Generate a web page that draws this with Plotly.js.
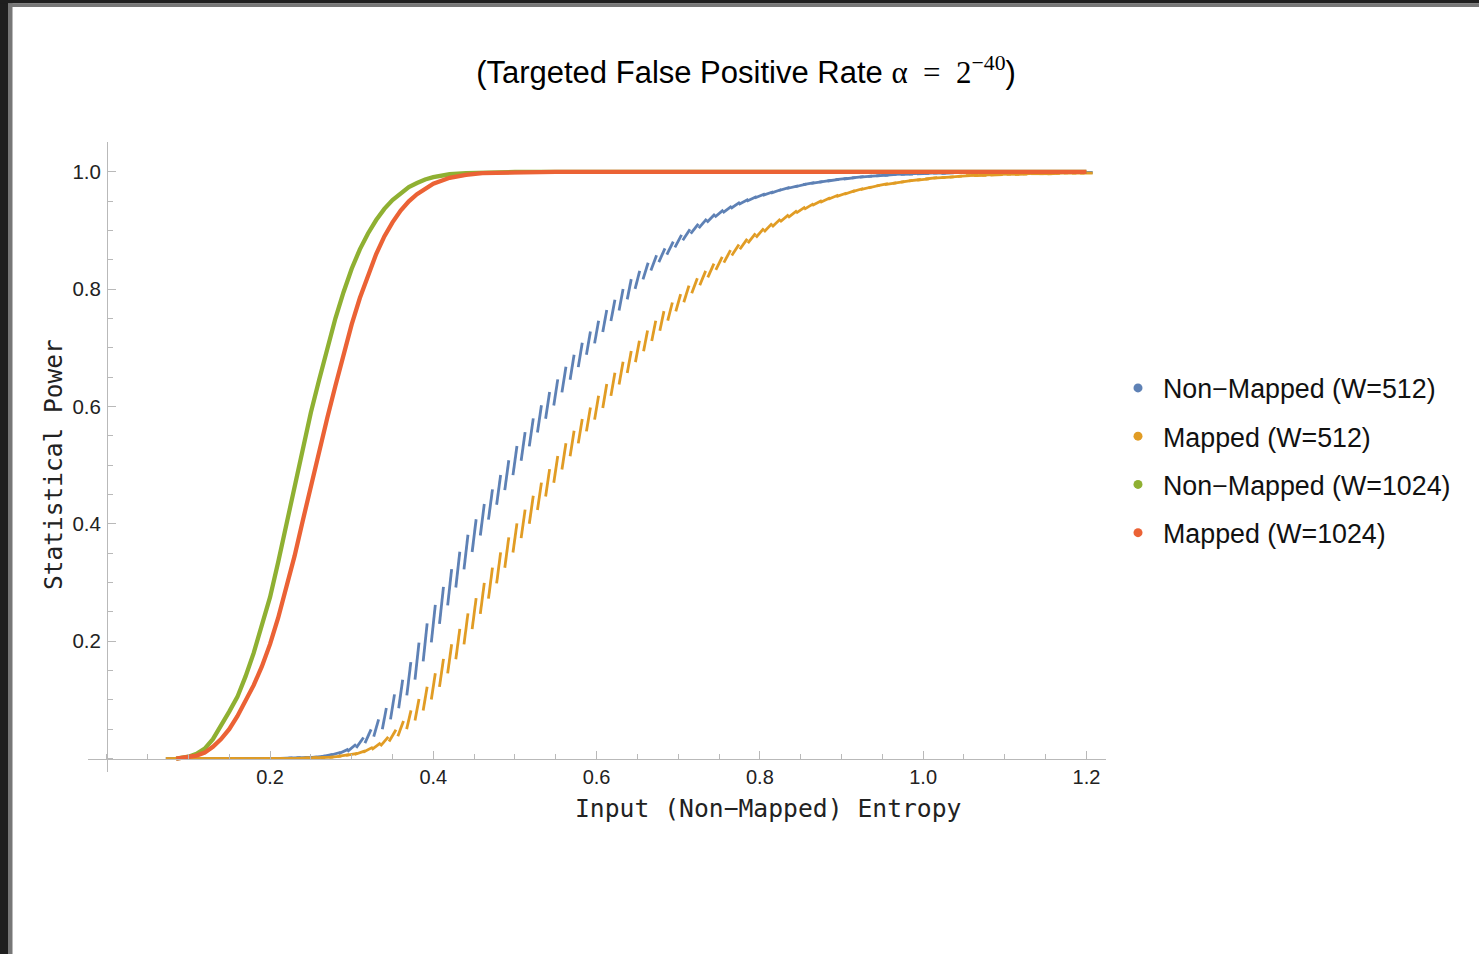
<!DOCTYPE html>
<html>
<head>
<meta charset="utf-8">
<script src="https://cdn.plot.ly/plotly-3.0.1.min.js"></script>
<style>html,body{margin:0;padding:0;background:#fff;}#chart{width:1479px;height:954px;}</style>
</head>
<body>
<div id="chart"></div>
<script>
// ---------------- data ----------------
const seriesNames = ["Non\u2212Mapped (W=512)", "Mapped (W=512)", "Non\u2212Mapped (W=1024)", "Mapped (W=1024)"];
const seriesColors = ["#5E81B5", "#E19C24", "#8FB032", "#EB6235"];

// W=512 curves, sampled every 0.01
const x512 = [0.08,0.09,0.10,0.11,0.12,0.13,0.14,0.15,0.16,0.17,0.18,0.19,0.20,0.21,0.22,0.23,0.24,0.25,0.26,0.27,0.28,0.29,
0.30,0.31,0.32,0.33,0.34,0.35,0.36,0.37,0.38,0.39,0.40,0.41,0.42,0.43,0.44,0.45,0.46,0.47,0.48,0.49,
0.50,0.51,0.52,0.53,0.54,0.55,0.56,0.57,0.58,0.59,0.60,0.61,0.62,0.63,0.64,0.65,0.66,0.67,0.68,0.69,
0.70,0.71,0.72,0.73,0.74,0.75,0.76,0.77,0.78,0.79,0.80,0.81,0.82,0.83,0.84,0.85,0.86,0.87,0.88,0.89,
0.90,0.91,0.92,0.93,0.94,0.95,0.96,0.97,0.98,0.99,1.00,1.01,1.02,1.03,1.04,1.05,1.06,1.07,1.08,1.09,
1.10,1.11,1.12,1.13,1.14,1.15,1.16,1.17,1.18,1.19,1.20];
const nonMapped512 = [0,0,0,0,0,0,0,0,0,0,0,0,0,0,0.0005,0.001,0.0015,0.002,0.003,0.005,0.008,0.012,
0.018,0.027,0.038,0.052,0.068,0.088,0.11,0.136,0.166,0.198,0.23,0.261,0.292,0.322,0.352,0.38,0.407,0.433,0.458,0.483,
0.508,0.532,0.556,0.579,0.602,0.624,0.646,0.667,0.688,0.708,0.727,0.746,0.764,0.782,0.80,0.816,0.831,0.845,0.858,0.870,
0.882,0.893,0.903,0.912,0.921,0.929,0.936,0.943,0.949,0.954,0.959,0.963,0.967,0.971,0.974,0.977,0.98,0.982,0.984,0.986,
0.988,0.989,0.991,0.992,0.993,0.994,0.995,0.996,0.996,0.997,0.997,0.998,0.998,0.998,0.999,0.999,0.999,0.999,0.999,0.999,
0.999,0.999,0.999,0.999,0.999,0.999,0.999,0.999,0.999,0.999,0.999];
const mapped512 = [0,0,0,0,0,0,0,0,0,0,0,0,0,0,0,0,0.0005,0.001,0.0015,0.002,0.003,0.005,
0.007,0.01,0.015,0.021,0.029,0.039,0.051,0.066,0.083,0.102,0.123,0.146,0.17,0.195,0.221,0.247,0.273,0.299,0.325,0.351,
0.376,0.40,0.424,0.447,0.47,0.493,0.515,0.537,0.558,0.578,0.598,0.618,0.638,0.657,0.676,0.694,0.712,0.729,0.746,0.762,
0.777,0.792,0.806,0.819,0.832,0.844,0.856,0.867,0.877,0.887,0.896,0.905,0.913,0.921,0.928,0.935,0.941,0.947,0.952,0.957,
0.961,0.965,0.969,0.972,0.975,0.978,0.98,0.982,0.984,0.986,0.987,0.989,0.99,0.991,0.992,0.993,0.994,0.994,0.995,0.995,
0.996,0.996,0.996,0.997,0.997,0.997,0.997,0.998,0.998,0.998,0.998];

// W=1024 curves
const xNonMapped1024 = [0.085,0.10,0.11,0.12,0.13,0.14,0.15,0.16,0.17,0.18,0.19,0.20,0.21,0.22,0.23,0.24,0.25,0.26,0.27,0.28,
0.29,0.30,0.31,0.32,0.33,0.34,0.35,0.36,0.37,0.38,0.39,0.40,0.42,0.44,0.46,0.50,0.60,0.80,1.00,1.20];
const nonMapped1024 = [0,0.003,0.008,0.017,0.033,0.055,0.08,0.105,0.14,0.18,0.225,0.275,0.335,0.40,0.465,0.53,0.59,0.645,0.70,0.75,
0.795,0.835,0.868,0.895,0.918,0.937,0.952,0.964,0.974,0.981,0.987,0.991,0.996,0.998,0.999,1,1,1,1,1];
const xMapped1024 = [0.085,0.10,0.11,0.12,0.13,0.14,0.15,0.16,0.17,0.18,0.19,0.20,0.21,0.22,0.23,0.24,0.25,0.26,0.27,0.28,
0.29,0.30,0.31,0.32,0.33,0.34,0.35,0.36,0.37,0.38,0.39,0.40,0.42,0.44,0.46,0.50,0.55,0.60,0.80,1.00,1.20];
const mapped1024 = [0,0.002,0.005,0.01,0.02,0.033,0.05,0.072,0.097,0.125,0.157,0.195,0.24,0.29,0.345,0.405,0.465,0.525,0.58,0.635,
0.69,0.74,0.785,0.825,0.86,0.89,0.914,0.934,0.95,0.962,0.972,0.98,0.99,0.995,0.998,0.9995,1,1,1,1,1];

const xTickVals = [0.2,0.4,0.6,0.8,1.0,1.2];
const xTickText = ["0.2","0.4","0.6","0.8","1.0","1.2"];
const yTickVals = [0.2,0.4,0.6,0.8,1.0];
const yTickText = ["0.2","0.4","0.6","0.8","1.0"];

// ---------------- layout geometry ----------------
const FW = 1479, FH = 954;
const xDom = [88/FW, 1106/FW];
const yDom = [1-772/FH, 1-142/FH];
const xRange = [-0.023, 1.224];
const yRange = [-0.023, 1.051];

// hatch-stroke styling derived from the local direction of each curve
function strokeStyle(xs, ys){
  const ax = (xDom[1]-xDom[0])*FW/(xRange[1]-xRange[0]);
  const ay = (yDom[1]-yDom[0])*FH/(yRange[1]-yRange[0]);
  const ang = [], siz = [];
  for (let i=0;i<xs.length;i++){
    const a = Math.max(0,i-1), b = Math.min(xs.length-1,i+1);
    const dx = (xs[b]-xs[a])*ax/(b-a), dy = (ys[b]-ys[a])*ay/(b-a);
    const s = Math.min(1, (dy/dx)/1.2);
    const h = dx*(1.1 - 0.75*s);
    const v = dy*(1 + 0.45*s);
    const L = Math.hypot(h, v);
    const theta = Math.atan2(v, h)*180/Math.PI;
    ang.push(90-theta); siz.push(L);
  }
  return {ang, siz};
}

function strokeTrace(xs, ys, k){
  const s = strokeStyle(xs, ys);
  return {x: xs, y: ys, type:'scatter', mode:'markers', name: seriesNames[k], showlegend:false, hoverinfo:'skip',
    marker:{symbol:'line-ns', size:s.siz, angle:s.ang, opacity:1, color:seriesColors[k],
            line:{color:seriesColors[k], width:2.8}}};
}
function lineTrace(xs, ys, k){
  return {x: xs, y: ys, type:'scatter', mode:'lines', name: seriesNames[k], showlegend:false, hoverinfo:'skip',
    line:{color:seriesColors[k], width:4.3}};
}
function legendTrace(k){
  return {x:[null], y:[null], type:'scatter', mode:'markers', name: seriesNames[k], legendgroup:'g'+k, showlegend:true,
    marker:{symbol:'circle', size:9, opacity:1, color:seriesColors[k]}};
}

const traces = [
  strokeTrace(x512, nonMapped512, 0),
  strokeTrace(x512, mapped512, 1),
  lineTrace(xNonMapped1024, nonMapped1024, 2),
  lineTrace(xMapped1024, mapped1024, 3),
  legendTrace(0), legendTrace(1), legendTrace(2), legendTrace(3)
];

const axisGray = '#b9b9b9';
const layout = {
  width: FW, height: FH,
  margin: {l:0, r:0, t:0, b:0, pad:0},
  paper_bgcolor:'#ffffff', plot_bgcolor:'rgba(0,0,0,0)',
  font: {family:'Liberation Sans, Arial, sans-serif', color:'#222'},
  title: {
    text: '(Targeted False Positive Rate <span style="font-family:Liberation Serif">\u03b1\u2002=\u20022<sup>\u221240</sup></span>)',
    font: {family:'Liberation Sans, Arial, sans-serif', size:31, color:'#000'},
    x: 746/FW, xanchor:'center', xref:'paper', y: 1-72/FH, yanchor:'middle', yref:'paper'
  },
  xaxis: {
    domain: xDom, range: xRange, anchor:'free', position: 1-758.5/FH,
    showline:true, linecolor:axisGray, linewidth:1, showgrid:false, zeroline:false,
    ticks:'inside', ticklen:8, tickwidth:1, tickcolor:axisGray,
    tickmode:'array', tickvals:xTickVals, ticktext:xTickText,
    tickfont:{family:'Liberation Sans, Arial, sans-serif', size:20, color:'#222'},
    minor:{tickmode:'linear', tick0:0, dtick:0.05, ticks:'inside', ticklen:5, tickcolor:axisGray, showgrid:false},
    fixedrange:true
  },
  yaxis: {
    domain: yDom, range: yRange, anchor:'free', position: 107/FW,
    showline:true, linecolor:axisGray, linewidth:1, showgrid:false, zeroline:false,
    ticks:'inside', ticklen:8, tickwidth:1, tickcolor:axisGray,
    tickmode:'array', tickvals:yTickVals, ticktext:yTickText, ticklabelstandoff:2,
    tickfont:{family:'Liberation Sans, Arial, sans-serif', size:20.5, color:'#222'},
    minor:{tickmode:'linear', tick0:0, dtick:0.05, ticks:'inside', ticklen:5, tickcolor:axisGray, showgrid:false},
    fixedrange:true
  },
  legend: {
    x: 1113/FW, xanchor:'left', y: 1-364/FH, yanchor:'top',
    font:{family:'Liberation Sans, Arial, sans-serif', size:26.8, color:'#111'},
    itemwidth:40, tracegroupgap:10.4, traceorder:'grouped', bgcolor:'rgba(0,0,0,0)', borderwidth:0
  },
  annotations: [
    {text:'Input (Non\u2212Mapped) Entropy', xref:'paper', yref:'paper', x: 768/FW, y: 1-808/FH,
     xanchor:'center', yanchor:'middle', showarrow:false,
     font:{family:'DejaVu Sans Mono, monospace', size:24.7, color:'#222'}},
    {text:'Statistical Power', xref:'paper', yref:'paper', x: 53/FW, y: 1-465/FH, textangle:-90,
     xanchor:'center', yanchor:'middle', showarrow:false,
     font:{family:'DejaVu Sans Mono, monospace', size:24.5, color:'#222'}}
  ],
  shapes: [
    {type:'rect', xref:'paper', yref:'paper', x0:0, x1:8/FW, y0:0, y1:1, fillcolor:'#1f1f1f', line:{width:0}},
    {type:'rect', xref:'paper', yref:'paper', x0:8/FW, x1:12.5/FW, y0:0, y1:1-3.5/FH, fillcolor:'#777777', line:{width:0}},
    {type:'rect', xref:'paper', yref:'paper', x0:0, x1:1, y0:1-3.5/FH, y1:1, fillcolor:'#1f1f1f', line:{width:0}},
    {type:'rect', xref:'paper', yref:'paper', x0:8/FW, x1:1, y0:1-7/FH, y1:1-3.5/FH, fillcolor:'#777777', line:{width:0}}
  ]
};

Plotly.newPlot('chart', traces, layout, {staticPlot:true, displayModeBar:false});
</script>
</body>
</html>
